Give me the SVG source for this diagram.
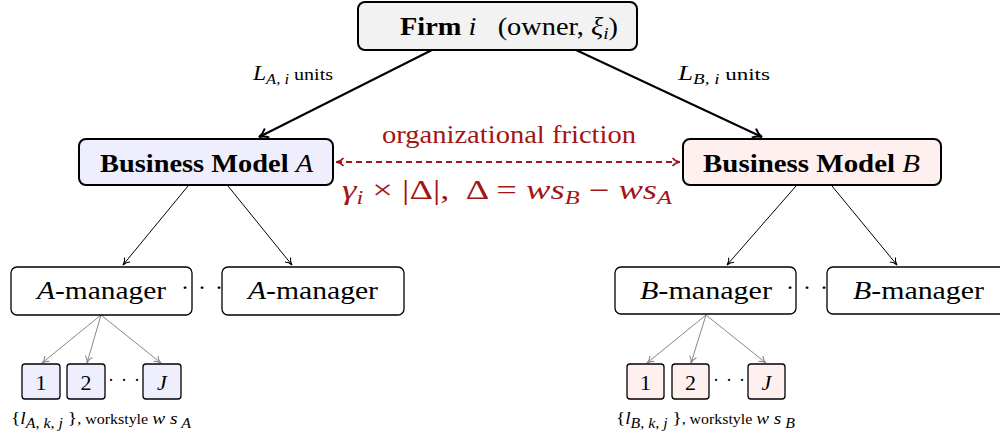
<svg xmlns="http://www.w3.org/2000/svg" width="1000" height="441" viewBox="0 0 1000 441">
<defs>
<style>
.t{font-family:"Liberation Serif","DejaVu Serif",serif;fill:#000}
.i{font-style:italic}
.b{font-weight:bold}
.red{fill:#a31515}
.box{stroke:#000;stroke-width:1.3}
.bm{stroke:#000;stroke-width:2}
</style>
<marker id="ak" viewBox="0 0 12 12" refX="11" refY="6" markerWidth="12" markerHeight="12" markerUnits="userSpaceOnUse" orient="auto">
<path d="M2,1 Q6,5 11,6 Q6,7 2,11" fill="none" stroke="#000" stroke-width="2"/>
</marker>
<marker id="at" viewBox="0 0 10 10" refX="9.5" refY="5" markerWidth="9" markerHeight="9" markerUnits="userSpaceOnUse" orient="auto">
<path d="M2,1 Q5,4.5 9.5,5 Q5,5.5 2,9" fill="none" stroke="#000" stroke-width="1.2"/>
</marker>
<marker id="ag" viewBox="0 0 10 10" refX="9.5" refY="5" markerWidth="9" markerHeight="9" markerUnits="userSpaceOnUse" orient="auto">
<path d="M2,1 Q5,4.5 9.5,5 Q5,5.5 2,9" fill="none" stroke="#888" stroke-width="1.2"/>
</marker>
<marker id="ar" viewBox="0 0 10 10" refX="9.5" refY="5" markerWidth="10" markerHeight="10" markerUnits="userSpaceOnUse" orient="auto-start-reverse">
<path d="M2,1 Q5,4.5 9.5,5 Q5,5.5 2,9" fill="none" stroke="#a31515" stroke-width="1.6"/>
</marker>
</defs>
<rect width="1000" height="441" fill="#fff"/>

<g id="connectors" fill="none">
<line x1="432" y1="50" x2="259" y2="137" stroke="#000" stroke-width="2" marker-end="url(#ak)"/>
<line x1="576" y1="50" x2="762" y2="137" stroke="#000" stroke-width="2" marker-end="url(#ak)"/>
<line x1="336" y1="162" x2="680" y2="162" stroke="#a31515" stroke-width="1.8" stroke-dasharray="6,4" marker-start="url(#ar)" marker-end="url(#ar)"/>
<line x1="188" y1="186" x2="123" y2="265" stroke="#000" stroke-width="1" marker-end="url(#at)"/>
<line x1="228" y1="186" x2="292" y2="265" stroke="#000" stroke-width="1" marker-end="url(#at)"/>
<line x1="796" y1="186" x2="727" y2="265" stroke="#000" stroke-width="1" marker-end="url(#at)"/>
<line x1="832" y1="186" x2="897" y2="265" stroke="#000" stroke-width="1" marker-end="url(#at)"/>
<line x1="101" y1="315" x2="42" y2="363" stroke="#888" stroke-width="1" marker-end="url(#ag)"/>
<line x1="101" y1="315" x2="87" y2="363" stroke="#888" stroke-width="1" marker-end="url(#ag)"/>
<line x1="101" y1="315" x2="161" y2="363" stroke="#888" stroke-width="1" marker-end="url(#ag)"/>
<line x1="706" y1="315" x2="647" y2="363" stroke="#888" stroke-width="1" marker-end="url(#ag)"/>
<line x1="706" y1="315" x2="691" y2="363" stroke="#888" stroke-width="1" marker-end="url(#ag)"/>
<line x1="706" y1="315" x2="766" y2="363" stroke="#888" stroke-width="1" marker-end="url(#ag)"/>
</g>

<g id="edge-labels">
<text class="t" x="253" y="80" font-size="20" textLength="80" lengthAdjust="spacingAndGlyphs"><tspan class="i">L</tspan><tspan class="i" font-size="14" dy="4">A, i</tspan><tspan dy="-4" font-size="17"> units</tspan></text>
<text class="t" x="678" y="80" font-size="20" textLength="92" lengthAdjust="spacingAndGlyphs"><tspan class="i">L</tspan><tspan class="i" font-size="14" dy="4">B, i</tspan><tspan dy="-4" font-size="17"> units</tspan></text>
<text class="t red" x="382" y="143" font-size="26" textLength="254" lengthAdjust="spacingAndGlyphs">organizational friction</text>
<text class="t red" x="342" y="199" font-size="27" textLength="330" lengthAdjust="spacingAndGlyphs" xml:space="preserve"><tspan class="i">γ</tspan><tspan class="i" font-size="18" dy="5">i</tspan><tspan dy="-5"> × |Δ|,  Δ = </tspan><tspan class="i">ws</tspan><tspan class="i" font-size="18" dy="5">B</tspan><tspan dy="-5"> − </tspan><tspan class="i">ws</tspan><tspan class="i" font-size="18" dy="5">A</tspan></text>
</g>

<g id="firm">
<rect x="358" y="2" width="279" height="48" rx="7" fill="#f2f2f2" class="bm"/>
<text class="t" x="400" y="35" font-size="25" textLength="218" lengthAdjust="spacingAndGlyphs" xml:space="preserve"><tspan class="b">Firm</tspan> <tspan class="i">i</tspan>   (owner, <tspan class="i">ξ</tspan><tspan class="i" font-size="17" dy="4">i</tspan><tspan dy="-4">)</tspan></text>
</g>

<g id="bm-a">
<rect x="79" y="139" width="254" height="46" rx="7" fill="#eeeefc" class="bm"/>
<text class="t" x="100" y="172" font-size="25" textLength="213" lengthAdjust="spacingAndGlyphs"><tspan class="b">Business Model </tspan><tspan class="i">A</tspan></text>
</g>
<g id="bm-b">
<rect x="683" y="139" width="258" height="46" rx="7" fill="#fdf0ef" class="bm"/>
<text class="t" x="703" y="172" font-size="25" textLength="217" lengthAdjust="spacingAndGlyphs"><tspan class="b">Business Model </tspan><tspan class="i">B</tspan></text>
</g>

<g id="a-manager-1">
<rect x="11" y="267" width="181" height="48" rx="6" fill="#fff" class="box"/>
<text class="t" x="37" y="299" font-size="26" textLength="129" lengthAdjust="spacingAndGlyphs"><tspan class="i">A</tspan>-manager</text>
</g>
<g id="a-dots"><text class="t" x="181" y="295" font-size="24" textLength="42" lengthAdjust="spacing">···</text></g>
<g id="a-manager-2">
<rect x="222" y="267" width="182" height="48" rx="6" fill="#fff" class="box"/>
<text class="t" x="248" y="299" font-size="26" textLength="130" lengthAdjust="spacingAndGlyphs"><tspan class="i">A</tspan>-manager</text>
</g>

<g id="b-manager-1">
<rect x="615" y="267" width="181" height="47" rx="6" fill="#fff" class="box"/>
<text class="t" x="640" y="299" font-size="26" textLength="132" lengthAdjust="spacingAndGlyphs"><tspan class="i">B</tspan>-manager</text>
</g>
<g id="b-dots"><text class="t" x="786" y="295" font-size="24" textLength="42" lengthAdjust="spacing">···</text></g>
<g id="b-manager-2">
<rect x="827" y="267" width="182" height="47" rx="6" fill="#fff" class="box"/>
<text class="t" x="853" y="299" font-size="26" textLength="131" lengthAdjust="spacingAndGlyphs"><tspan class="i">B</tspan>-manager</text>
</g>

<g id="a-worker-1"><rect x="22" y="364" width="38" height="35" rx="3" fill="#eeeefc" class="box"/><text class="t" x="41" y="390" font-size="22" text-anchor="middle">1</text></g>
<g id="a-worker-2"><rect x="67" y="364" width="38" height="35" rx="3" fill="#eeeefc" class="box"/><text class="t" x="86" y="390" font-size="22" text-anchor="middle">2</text></g>
<g id="a-worker-dots"><text class="t" x="108" y="386" font-size="18" textLength="32" lengthAdjust="spacing">···</text></g>
<g id="a-worker-j"><rect x="143" y="364" width="38" height="35" rx="3" fill="#eeeefc" class="box"/><text class="t i" x="162" y="390" font-size="22" text-anchor="middle">J</text></g>
<g id="a-label"><text class="t" x="11" y="424" font-size="17" textLength="180" lengthAdjust="spacingAndGlyphs">{<tspan class="i">l</tspan><tspan class="i" font-size="14" dy="4">A, k, j</tspan><tspan dy="-4"> }</tspan><tspan font-size="14">, workstyle </tspan><tspan class="i">w s</tspan><tspan class="i" font-size="14" dy="4"> A</tspan></text></g>

<g id="b-worker-1"><rect x="627" y="364" width="37" height="35" rx="3" fill="#fdf0ef" class="box"/><text class="t" x="645.5" y="390" font-size="22" text-anchor="middle">1</text></g>
<g id="b-worker-2"><rect x="672" y="364" width="37" height="35" rx="3" fill="#fdf0ef" class="box"/><text class="t" x="690.5" y="390" font-size="22" text-anchor="middle">2</text></g>
<g id="b-worker-dots"><text class="t" x="713" y="386" font-size="18" textLength="32" lengthAdjust="spacing">···</text></g>
<g id="b-worker-j"><rect x="748" y="364" width="37" height="35" rx="3" fill="#fdf0ef" class="box"/><text class="t i" x="766.5" y="390" font-size="22" text-anchor="middle">J</text></g>
<g id="b-label"><text class="t" x="616" y="424" font-size="17" textLength="179" lengthAdjust="spacingAndGlyphs">{<tspan class="i">l</tspan><tspan class="i" font-size="14" dy="4">B, k, j</tspan><tspan dy="-4"> }</tspan><tspan font-size="14">, workstyle </tspan><tspan class="i">w s</tspan><tspan class="i" font-size="14" dy="4"> B</tspan></text></g>
</svg>
